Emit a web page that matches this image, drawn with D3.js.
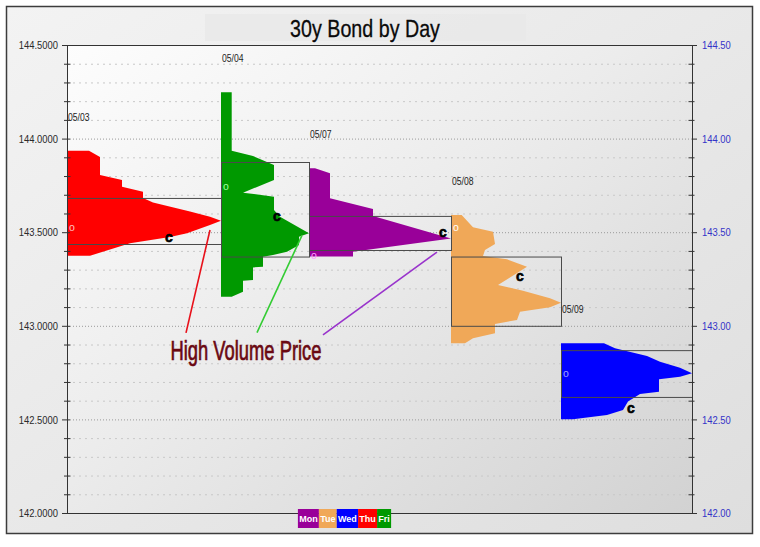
<!DOCTYPE html>
<html>
<head>
<meta charset="utf-8">
<script src="https://cdn.jsdelivr.net/npm/d3@7"></script>
<style>
  html, body { margin: 0; padding: 0; background: #ffffff; }
  svg { display: block; }
  text { font-family: "Liberation Sans", Arial, sans-serif; }
</style>
</head>
<body>
<svg id="chart" width="760" height="547"></svg>
<script>
// ---- Sessions ---------------------------------------------------------
const sessionDates = ["05/03", "05/04", "05/07", "05/08", "05/09"];
const sessionWeekdays = ["Thu", "Fri", "Mon", "Tue", "Wed"];

// Volume-at-price outlines, [price, volume], from the session high down to the low
const profile0503 = [
  [143.935, 22], [143.902, 33], [143.806, 33], [143.779, 55], [143.743, 55],
  [143.716, 76], [143.683, 76], [143.658, 86], [143.610, 123], [143.583, 143],
  [143.561, 154], [143.538, 143], [143.494, 120], [143.474, 103], [143.441, 63],
  [143.374, 23]
];
const profile0504 = [
  [144.247, 10.7], [143.935, 10.7], [143.907, 32], [143.859, 53], [143.779, 53],
  [143.711, 22], [143.690, 53], [143.619, 53], [143.583, 59], [143.494, 88],
  [143.476, 78], [143.432, 78], [143.396, 66], [143.378, 52], [143.369, 42],
  [143.316, 42], [143.312, 32], [143.245, 32], [143.240, 22], [143.182, 22],
  [143.155, 10.7]
];
const profile0507 = [
  [143.841, 6], [143.815, 21], [143.681, 21], [143.624, 64], [143.587, 64],
  [143.467, 142], [143.396, 44], [143.370, 44]
];
const profile0508 = [
  [143.592, 10.7], [143.526, 22], [143.503, 42], [143.437, 44], [143.405, 34],
  [143.373, 32], [143.355, 56], [143.316, 76], [143.218, 47], [143.187, 72],
  [143.147, 99], [143.123, 110], [143.099, 99], [143.075, 69], [143.031, 66],
  [143.010, 44], [142.960, 44], [142.933, 22], [142.907, 14]
];
const profile0509 = [
  [142.907, 43], [142.880, 54], [142.839, 86], [142.808, 99], [142.776, 119],
  [142.746, 131], [142.728, 119], [142.714, 98], [142.648, 98], [142.636, 79],
  [142.595, 67], [142.550, 62], [142.523, 46], [142.501, 12]
];
const profiles = [profile0503, profile0504, profile0507, profile0508, profile0509];

// Value area bounds, opening and closing prices per session
const valueAreaHigh = [143.683, 143.875, 143.587, 143.370, 142.870];
const valueAreaLow  = [143.437, 143.370, 143.405, 143.000, 142.620];
const openPrices    = [143.528, 143.747, 143.378, 143.528, 142.748];
const closePrices   = [143.474, 143.587, 143.497, 143.266, 142.559];
const closeVolumes  = [102, 56, 134, 69, 70];

// Price axis
const majorTicks = [142.0, 142.5, 143.0, 143.5, 144.0, 144.5];
const leftTickLabels  = ["142.0000", "142.5000", "143.0000", "143.5000", "144.0000", "144.5000"];
const rightTickLabels = ["142.00", "142.50", "143.00", "143.50", "144.00", "144.50"];
const minorTicks = [142.1, 142.2, 142.3, 142.4, 142.6, 142.7, 142.8, 142.9,
                    143.1, 143.2, 143.3, 143.4, 143.6, 143.7, 143.8, 143.9,
                    144.1, 144.2, 144.3, 144.4];

// Weekday key
const legendDays = ["Mon", "Tue", "Wed", "Thu", "Fri"];

// Callout: tips are [session, volume, price]; tails are [cumulative volume, price]
const calloutText = "High Volume Price";
const calloutTips  = [[0, 143, 143.512], [1, 81, 143.483], [2, 128, 143.394]];
const calloutTails = [[119, 142.962], [190, 142.964], [256, 142.951]];
const calloutAnchor = [179, 142.817];

const chartTitle = "30y Bond by Day";

// ---- Styles -----------------------------------------------------------
const dayColors  = { Mon: "#990099", Tue: "#f0a858", Wed: "#0000ff", Thu: "#ff0000", Fri: "#009900" };
const openColors = { Mon: "#ff9cff", Tue: "#ffffff", Wed: "#a0a0ff", Thu: "#ffc0c0", Fri: "#a0ffa0" };
const pointerColors = { Thu: "#e8101a", Fri: "#33cc33", Mon: "#9933cc" };

// ---- Layout -----------------------------------------------------------
const svg = d3.select("#chart");
const plot = { left: 67, right: 692, top: 45, bottom: 513 };
const NARROW = 0.82;

const y = d3.scaleLinear().domain([142, 144.5]).range([plot.bottom, plot.top]);
const sessionWidths = profiles.map(p => d3.max(p, d => d[1]));
const offsets = sessionWidths.map((w, i) => d3.sum(sessionWidths.slice(0, i)));
const x = d3.scaleLinear().domain([0, d3.sum(sessionWidths)]).range([plot.left, plot.right]);

const defs = svg.append("defs");
const outerGrad = defs.append("linearGradient").attr("id", "outerBg")
  .attr("x1", "0").attr("y1", "0").attr("x2", "1").attr("y2", "1");
outerGrad.append("stop").attr("offset", "0").attr("stop-color", "#f3f3f3");
outerGrad.append("stop").attr("offset", "1").attr("stop-color", "#dedede");
const plotGrad = defs.append("linearGradient").attr("id", "plotBg")
  .attr("x1", "0").attr("y1", "0").attr("x2", "1").attr("y2", "1");
plotGrad.append("stop").attr("offset", "0").attr("stop-color", "#fdfdfd");
plotGrad.append("stop").attr("offset", "0.45").attr("stop-color", "#ececec");
plotGrad.append("stop").attr("offset", "1").attr("stop-color", "#d2d2d2");

// Outer panel
svg.append("rect").attr("x", 6.5).attr("y", 6.5).attr("width", 746).attr("height", 527)
  .attr("fill", "url(#outerBg)").attr("stroke", "#3c3c3c").attr("stroke-width", 1.5);

// Title band and title
svg.append("rect").attr("x", 205).attr("y", 14).attr("width", 321).attr("height", 27)
  .attr("fill", "#e9e9e9").attr("opacity", 0.8);

function narrowText(parent, px, py, str, size, anchor, k) {
  return parent.append("text")
    .attr("transform", `translate(${px},${py}) scale(${k || NARROW},1)`)
    .attr("text-anchor", anchor || "start")
    .attr("font-size", size)
    .text(str);
}

narrowText(svg, 365, 37, chartTitle, 24, "middle")
  .attr("fill", "#0a0a0a").attr("stroke", "#0a0a0a").attr("stroke-width", 0.3);

// Plot background
svg.append("rect").attr("x", plot.left).attr("y", plot.top)
  .attr("width", plot.right - plot.left).attr("height", plot.bottom - plot.top)
  .attr("fill", "url(#plotBg)");

// Grid lines
const grid = svg.append("g");
grid.selectAll("line.minor").data(minorTicks).join("line")
  .attr("x1", plot.left).attr("x2", plot.right)
  .attr("y1", d => y(d) + 0.5).attr("y2", d => y(d) + 0.5)
  .attr("stroke", "#c8c8c8").attr("stroke-dasharray", "2,4");
grid.selectAll("line.major").data(majorTicks.slice(1, -1)).join("line")
  .attr("x1", plot.left).attr("x2", plot.right)
  .attr("y1", d => y(d) + 0.5).attr("y2", d => y(d) + 0.5)
  .attr("stroke", "#9a9a9a").attr("stroke-dasharray", "1,2");

// Volume profiles
const outline = d3.line().x(d => d[0]).y(d => d[1]);
profiles.forEach((prof, i) => {
  const off = offsets[i];
  const pts = [[x(off), y(prof[0][0])]]
    .concat(prof.map(d => [x(off + d[1]), y(d[0])]))
    .concat([[x(off), y(prof[prof.length - 1][0])]]);
  svg.append("path").attr("d", outline(pts) + "Z")
    .attr("fill", dayColors[sessionWeekdays[i]]);
});

// Value areas
svg.append("g").selectAll("rect").data(sessionDates).join("rect")
  .attr("x", (d, i) => x(offsets[i]) + 0.5)
  .attr("y", (d, i) => y(valueAreaHigh[i]) + 0.5)
  .attr("width", (d, i) => x(offsets[i] + sessionWidths[i]) - x(offsets[i]))
  .attr("height", (d, i) => y(valueAreaLow[i]) - y(valueAreaHigh[i]))
  .attr("fill", "none").attr("stroke", "#4a4a4a").attr("stroke-width", 1);

// Open / close marks
sessionDates.forEach((d, i) => {
  svg.append("text").attr("x", x(offsets[i]) + 2).attr("y", y(openPrices[i]))
    .attr("dy", "0.35em").attr("font-size", 10.5)
    .attr("fill", openColors[sessionWeekdays[i]]).text("o");
  svg.append("text").attr("x", x(offsets[i] + closeVolumes[i])).attr("y", y(closePrices[i]))
    .attr("dy", "0.33em").attr("text-anchor", "middle")
    .attr("font-size", 14).attr("font-weight", "bold").attr("fill", "#000")
    .attr("stroke", "#000").attr("stroke-width", 0.6).text("c");
});

// Session date labels above each high
sessionDates.forEach((d, i) => {
  narrowText(svg, x(offsets[i]) + 1, y(profiles[i][0][0]) - 30, d, 10.5).attr("fill", "#222");
});

// Axes
const axisColor = "#333";
const leftAxis = svg.append("g").attr("transform", `translate(${plot.left},0)`)
  .call(d3.axisLeft(y).tickValues(majorTicks).tickFormat((d, i) => leftTickLabels[i])
    .tickSize(5).tickSizeOuter(0).tickPadding(9));
leftAxis.select(".domain").attr("stroke", axisColor);
leftAxis.selectAll(".tick line").attr("stroke", axisColor).attr("x1", 3);
leftAxis.selectAll(".tick text")
  .attr("font-family", "Liberation Sans, Arial, sans-serif").attr("font-size", 11.5)
  .attr("fill", "#2a2a2a").attr("transform", `scale(${NARROW},1)`).attr("x", -9 / NARROW);
svg.append("g").attr("transform", `translate(${plot.left},0)`)
  .call(d3.axisLeft(y).tickValues(minorTicks).tickFormat("").tickSize(3).tickSizeOuter(0))
  .call(g => g.select(".domain").remove())
  .call(g => g.selectAll(".tick line").attr("stroke", axisColor).attr("x1", 3.5));

const rightAxis = svg.append("g").attr("transform", `translate(${plot.right},0)`)
  .call(d3.axisRight(y).tickValues(majorTicks).tickFormat((d, i) => rightTickLabels[i])
    .tickSize(5).tickSizeOuter(0).tickPadding(5));
rightAxis.select(".domain").attr("stroke", axisColor);
rightAxis.selectAll(".tick line").attr("stroke", axisColor);
rightAxis.selectAll(".tick text")
  .attr("font-family", "Liberation Sans, Arial, sans-serif").attr("font-size", 11.5)
  .attr("fill", "#3434c8").attr("transform", `scale(${NARROW},1)`).attr("x", 10 / NARROW);
svg.append("g").attr("transform", `translate(${plot.right},0)`)
  .call(d3.axisRight(y).tickValues(minorTicks).tickFormat("").tickSize(2.5).tickSizeOuter(0))
  .call(g => g.select(".domain").remove())
  .call(g => g.selectAll(".tick line").attr("stroke", axisColor).attr("x1", -3.5));

// Top and bottom frame lines of the plot
svg.append("g").selectAll("line").data([144.5, 142]).join("line")
  .attr("x1", plot.left - 5).attr("x2", plot.right)
  .attr("y1", d => y(d) + 0.5).attr("y2", d => y(d) + 0.5)
  .attr("stroke", axisColor);

// Callout lines and text
calloutTips.forEach((tip, i) => {
  const [s, v, p] = tip;
  const [tv, tp] = calloutTails[i];
  svg.append("line")
    .attr("x1", x(tv)).attr("y1", y(tp))
    .attr("x2", x(offsets[s] + v)).attr("y2", y(p))
    .attr("stroke", pointerColors[sessionWeekdays[s]]).attr("stroke-width", 1.6);
});
narrowText(svg, x(calloutAnchor[0]), y(calloutAnchor[1]), calloutText, 27, "middle", 0.68)
  .attr("fill", "#6a0812").attr("stroke", "#6a0812").attr("stroke-width", 0.7);

// Weekday key
const legend = svg.append("g");
const items = legendDays.map(day => {
  const t = legend.append("text").attr("font-size", 9).attr("font-weight", "bold")
    .attr("fill", "#fff").text(day);
  return { day, t, w: t.node().getComputedTextLength() + 2.5 };
});
const legendTotal = d3.sum(items, d => d.w);
let lx = 344.5 - legendTotal / 2;
items.forEach(it => {
  legend.insert("rect", "text").attr("x", lx).attr("y", 509).attr("width", it.w).attr("height", 19)
    .attr("fill", dayColors[it.day]);
  it.t.attr("x", lx + it.w / 2).attr("y", 521.5).attr("text-anchor", "middle");
  lx += it.w;
});
</script>
</body>
</html>
